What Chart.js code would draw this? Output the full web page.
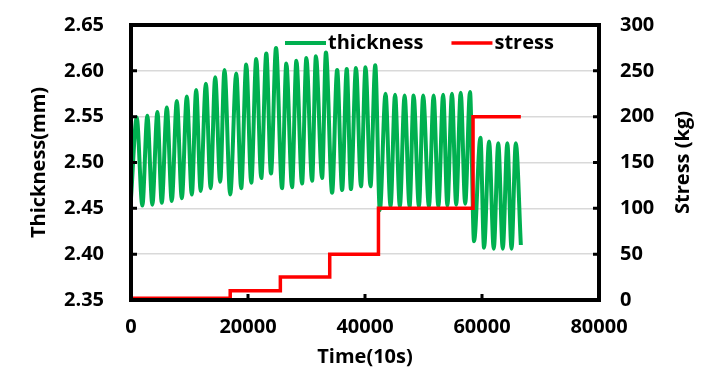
<!DOCTYPE html>
<html><head><meta charset="utf-8">
<script src="https://cdn.jsdelivr.net/npm/chart.js@4.4.1/dist/chart.umd.min.js"></script>
<style>html,body{margin:0;padding:0;background:#fff;}#wrap{width:703px;height:385px;position:relative;}</style>
</head><body><div id="wrap"><canvas id="c" width="703" height="385"></canvas></div>
<script>
// ---- data ----
const timeThickness = [0,980,1940,2790,3650,4510,5260,6120,6970,7830,8690,9540,10400,11140,11910,12800,13620,14390,15250,15980,16960,17990,18840,19700,20560,21410,22270,23130,23930,24790,25820,26550,27530,28270,29240,29980,30960,31610,32670,33320,34380,35240,36090,36880,37600,38460,39320,40090,40940,41750,42540,43510,44370,45140,45960,46770,47620,48310,49220,49940,50930,51730,52540,53360,54080,54870,55590,56360,57130,57950,58640,59730,60350,61210,62010,62780,63550,64330,65050,65780,66640];
const thickness = [2.461,2.549,2.453,2.551,2.454,2.555,2.456,2.560,2.458,2.567,
  2.461,2.572,2.465,2.579,2.469,2.586,2.472,2.593,2.479,2.601,
  2.465,2.597,2.472,2.607,2.478,2.613,2.483,2.619,2.488,2.625,
  2.472,2.608,2.473,2.611,2.477,2.614,2.480,2.616,2.483,2.620,
  2.467,2.601,2.470,2.602,2.471,2.603,2.474,2.604,2.474,2.606,
  2.448,2.575,2.452,2.574,2.452,2.573,2.452,2.573,2.452,2.573,
  2.452,2.573,2.452,2.574,2.453,2.575,2.454,2.576,2.455,2.577,
  2.414,2.527,2.407,2.523,2.406,2.521,2.406,2.521,2.406,2.521,2.410];
const stressTime = [0,0,16960,25530,33970,42300,58470,66640];
const stress = [0,2,10,25,50,100,200,200];
const xTickValues = [0,20000,40000,60000,80000];
const thickTickValues = [2.35,2.40,2.45,2.50,2.55,2.60,2.65];
const stressTickValues = [0,50,100,150,200,250,300];
const seriesNames = ['thickness','stress'];
const seriesColors = ['#00B050','#FF0000'];

const FONT = "bold 20px 'Open Sans', sans-serif";
Chart.defaults.font.family = "'Open Sans', sans-serif";
Chart.defaults.font.weight = 'bold';
Chart.defaults.font.size = 20;
Chart.defaults.color = '#000';

const framePlugin = {
  id: 'frame',
  afterDatasetsDraw(chart) {
    const {ctx, chartArea: a, scales} = chart;
    ctx.save();
    ctx.strokeStyle = '#000';
    ctx.lineWidth = 3;
    ctx.lineCap = 'butt';
    const tl = 6;
    ctx.beginPath();
    scales.y.ticks.forEach(t => { const p = scales.y.getPixelForValue(t.value); ctx.moveTo(a.left, p); ctx.lineTo(a.left + tl, p); });
    scales.y1.ticks.forEach(t => { const p = scales.y1.getPixelForValue(t.value); ctx.moveTo(a.right, p); ctx.lineTo(a.right - tl, p); });
    scales.x.ticks.forEach(t => { const p = scales.x.getPixelForValue(t.value); ctx.moveTo(p, a.bottom); ctx.lineTo(p, a.bottom - tl); });
    ctx.stroke();
    ctx.lineWidth = 4;
    ctx.strokeRect(a.left, a.top, a.right - a.left, a.bottom - a.top);
    ctx.restore();
  },
  afterDraw(chart) {
    const {ctx, chartArea: a} = chart;
    ctx.save();
    ctx.font = FONT;
    ctx.fillStyle = '#000';
    ctx.textAlign = 'center';
    ctx.textBaseline = 'middle';
    ctx.translate(683, (a.top + a.bottom) / 2);
    ctx.rotate(-Math.PI / 2);
    ctx.fillText(chart.options.scales.y1.title.text, 0, 0);
    ctx.restore();
    ctx.save();
    ctx.font = FONT;
    ctx.textBaseline = 'middle';
    ctx.textAlign = 'left';
    let x = 285;
    const y = 43;
    chart.data.datasets.forEach((ds) => {
      ctx.strokeStyle = ds.borderColor;
      ctx.lineWidth = ds.borderWidth;
      ctx.beginPath(); ctx.moveTo(x, y); ctx.lineTo(x + 41, y); ctx.stroke();
      ctx.fillStyle = '#000';
      ctx.fillText(ds.label, x + 43, y);
      x += 43 + ctx.measureText(ds.label).width + 28;
    });
    ctx.restore();
  }
};

const noPad = s => { s.paddingTop = 0; s.paddingBottom = 0; };

new Chart(document.getElementById('c'), {
  type: 'line',
  data: {
    datasets: [
      { label: seriesNames[0], data: timeThickness.map((t, i) => ({x: t, y: thickness[i]})),
        borderColor: seriesColors[0], backgroundColor: seriesColors[0], borderWidth: 4,
        pointRadius: 0, cubicInterpolationMode: 'monotone', yAxisID: 'y', order: 1 },
      { label: seriesNames[1], data: stressTime.map((t, i) => ({x: t, y: stress[i]})),
        borderColor: seriesColors[1], backgroundColor: seriesColors[1], borderWidth: 3.5,
        pointRadius: 0, stepped: 'before', yAxisID: 'y1', order: 0 }
    ]
  },
  options: {
    responsive: false,
    animation: false,
    devicePixelRatio: 1,
    layout: { padding: { top: 25, left: 0, right: 0, bottom: 0 } },
    plugins: { legend: { display: false }, tooltip: { enabled: false } },
    scales: {
      x: {
        type: 'linear', min: 0, max: 80000,
        afterBuildTicks: s => { s.ticks = xTickValues.map(v => ({value: v})); },
        afterFit: s => { s.height = 85; },
        grid: { display: false, drawTicks: false },
        border: { display: false },
        ticks: { padding: 15, maxRotation: 0, callback: v => String(v) },
        title: { display: true, text: 'Time(10s)', padding: { top: 0, bottom: 16 } }
      },
      y: {
        type: 'linear', position: 'left', min: 2.35, max: 2.65,
        afterBuildTicks: s => { s.ticks = thickTickValues.map(v => ({value: v})); },
        afterFit: s => { s.width = 131; noPad(s); },
        grid: { color: '#d9d9d9', lineWidth: 1.5, drawTicks: false },
        border: { display: false },
        ticks: { padding: 27, callback: v => Number(v).toFixed(2) },
        title: { display: true, text: 'Thickness(mm)', padding: { top: 27, bottom: 0 } }
      },
      y1: {
        type: 'linear', position: 'right', min: 0, max: 300,
        afterBuildTicks: s => { s.ticks = stressTickValues.map(v => ({value: v})); },
        afterFit: s => { s.width = 104; noPad(s); },
        grid: { display: false, drawTicks: false },
        border: { display: false },
        ticks: { padding: 21, callback: v => String(v) },
        title: { display: false, text: 'Stress (kg)' }
      }
    }
  },
  plugins: [framePlugin]
});
</script></body></html>
